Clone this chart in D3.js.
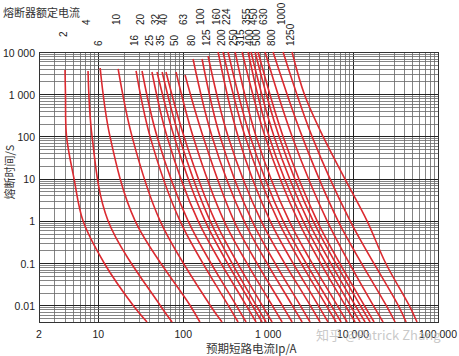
<!DOCTYPE html>
<html><head><meta charset="utf-8">
<script src="https://cdn.jsdelivr.net/npm/d3@7"></script>
<style>body{margin:0;background:#fff}svg{display:block}</style>
</head><body>
<svg id="c" width="459" height="356"></svg>
<script>
// Rated currents (labels at top) and the row each label sits in (0 = upper, 1 = lower)
const ratings = ["2","4","6","10","16","20","25","32","35","40","50","63","80","100","125","160","200","224","250","315","355","400","450","500","630","800","1000","1250"];
const labelRow = [1,0,1,0,1,0,1,0,1,0,1,0,1,0,1,0,1,0,1,1,0,1,0,1,0,1,0,1];
// x tick labels / y tick labels
const xTicks = [2, 10, 100, 1000, 10000, 100000];
const xTickLabels = ["2", "10", "100", "1 000", "10 000", "100 000"];
const yTicks = [10000, 1000, 100, 10, 1, 0.1, 0.01];
const yTickLabels = ["10 000", "1 000", "100", "10", "1", "0.1", "0.01"];

// Each curve: [prospective current A, melting time s]
const fuse2 = [[4.05,3740],[4.1,1000],[4.22,100],[5.17,10],[6.6,1],[11.7,0.1],[25.6,0.01],[37.4,0.004]];
const fuse4 = [[7.56,3550],[8.43,100],[13.0,1],[53.3,0.01],[73.8,0.004]];
const fuse6 = [[10.5,4180],[13.7,100],[27.1,1],[120,0.01],[157,0.004]];
const fuse10 = [[17.1,3960],[24.9,100],[53.3,1],[207,0.01],[286,0.004]];
const fuse16 = [[27.8,3550],[40.6,100],[91.5,1],[337,0.01],[442,0.004]];
const fuse20 = [[32.7,3550],[49.1,100],[113.9,1],[419,0.01],[549,0.004]];
const fuse25 = [[42.8,3360],[64.3,100],[149.4,1],[549,0.01],[720,0.004]];
const fuse32 = [[49.1,3360],[78.0,100],[180.7,1],[646,0.01],[848,0.004]];
const fuse35 = [[56.4,3360],[89.3,100],[207,1],[720,0.01],[945,0.004]];
const fuse40 = [[62.6,3360],[102,100],[237,1],[848,0.01],[1111,0.004]];
const fuse50 = [[82.2,3360],[130.4,100],[302,1],[1111,0.01],[1458,0.004]];
const fuse63 = [[105,2850],[171,100],[396,1],[1458,0.01],[1913,0.004]];
const fuse80 = [[130.4,6820],[218,100],[520,1],[1913,0.01],[2510,0.004]];
const fuse100 = [[166.5,6820],[271,100],[646,1],[2375,0.01],[3115,0.004]];
const fuse125 = [[196,8040],[337,100],[826,1],[3115,0.01],[4085,0.004]];
const fuse160 = [[257,10000],[442,100],[1053,1],[3870,0.01],[5075,0.004]];
const fuse200 = [[294,10000],[535,100],[1308,1],[4805,0.01],[6315,0.004]];
const fuse224 = [[337,10000],[614,100],[1498,1],[5506,0.01],[7223,0.004]];
const fuse250 = [[408,10000],[720,100],[1764,1],[6478,0.01],[8505,0.004]];
const fuse315 = [[493,10000],[918,100],[2252,1],[8044,0.01],[10560,0.004]];
const fuse355 = [[580,10000],[1025,100],[2578,1],[9223,0.01],[12090,0.004]];
const fuse400 = [[629,10000],[1173,100],[2951,1],[10560,0.01],[13850,0.004]];
const fuse450 = [[701,10000],[1344,100],[3381,1],[12090,0.01],[15860,0.004]];
const fuse500 = [[761,10000],[1498,100],[3769,1],[13475,0.01],[17680,0.004]];
const fuse630 = [[919,10000],[1913,100],[4943,1],[17200,0.01],[22550,0.004]];
const fuse800 = [[1142,10000],[2510,100],[6650,1],[24460,0.01],[31240,0.004]];
const fuse1000 = [[1498,10000],[3283,100],[9223,1],[33870,0.01],[42100,0.004]];
const fuse1250 = [[1910,10000],[2667,1000],[4426,100],[7980,10],[14590,1],[24150,0.1],[45600,0.01],[56600,0.004]];

const curves = [fuse2,fuse4,fuse6,fuse10,fuse16,fuse20,fuse25,fuse32,fuse35,fuse40,fuse50,fuse63,fuse80,fuse100,fuse125,fuse160,fuse200,fuse224,fuse250,fuse315,fuse355,fuse400,fuse450,fuse500,fuse630,fuse800,fuse1000,fuse1250];

const svg = d3.select("#c");
const L = 39, R = 438, T = 52, B = 322;
const x = d3.scaleLog().domain([2, 100000]).range([L, R]);
const y = d3.scaleLog().domain([0.004, 10000]).range([B, T]);

// grid
const g = svg.append("g");
function logLines(lo, hi) {
  const out = [];
  for (let e = -4; e <= 6; e++) for (let n = 1; n <= 9; n++) {
    const v = +(n * Math.pow(10, e)).toPrecision(3);
    if (v >= lo * 0.999 && v <= hi * 1.001) out.push({v, major: n === 1});
  }
  return out;
}
g.selectAll("line.vx").data(logLines(2, 100000)).enter().append("line")
  .attr("x1", d => Math.round(x(d.v)) + 0.5).attr("x2", d => Math.round(x(d.v)) + 0.5)
  .attr("y1", T).attr("y2", B)
  .attr("stroke", d => d.major ? "#222" : "#666").attr("stroke-width", d => d.major ? 1 : 0.8);
g.selectAll("line.hy").data(logLines(0.004, 10000)).enter().append("line")
  .attr("y1", d => Math.round(y(d.v)) + 0.5).attr("y2", d => Math.round(y(d.v)) + 0.5)
  .attr("x1", L).attr("x2", R)
  .attr("stroke", d => d.major ? "#222" : "#666").attr("stroke-width", d => d.major ? 1 : 0.8);
svg.append("rect").attr("x", L + 0.5).attr("y", T + 0.5).attr("width", R - L).attr("height", B - T)
  .attr("fill", "none").attr("stroke", "#333").attr("stroke-width", 1);

// curves
const line = d3.line().x(d => x(d[0])).y(d => y(d[1])).curve(d3.curveCatmullRom.alpha(0.5));
svg.append("g").selectAll("path").data(curves).enter().append("path")
  .attr("d", line).attr("fill", "none").attr("stroke", "#dc2a30").attr("stroke-width", 1.6);

// axes text
const font = "'Liberation Sans', Arial, sans-serif";
svg.append("g").selectAll("text").data(xTicks).enter().append("text")
  .attr("x", d => x(d)).attr("y", 338).attr("text-anchor", "middle")
  .attr("font-family", font).attr("font-size", 10.5).attr("fill", "#222")
  .text((d, i) => xTickLabels[i]);
svg.append("g").selectAll("text").data(yTicks).enter().append("text")
  .attr("x", 35).attr("y", d => y(d) + 1).attr("dy", "0.35em").attr("text-anchor", "end")
  .attr("font-family", font).attr("font-size", 10.5).attr("fill", "#222")
  .text((d, i) => yTickLabels[i]);

// top rated-current labels (rotated)
svg.append("g").selectAll("text").data(curves).enter().append("text")
  .attr("transform", (d, i) => {
    const base = i === 0 ? 37 : (labelRow[i] === 0 ? 25 : 46);
    return `translate(${x(d[0][0]) + 1.5},${base}) rotate(-90)`;
  })
  .attr("font-family", font).attr("font-size", 10).attr("fill", "#222")
  .text((d, i) => ratings[i]);

const cjk = "'Noto Sans CJK SC', sans-serif";
svg.append("text").attr("x", 3).attr("y", 17).attr("font-family", cjk).attr("font-size", 11)
  .attr("fill", "#333").text("熔断器额定电流");
svg.append("text").attr("transform", "translate(14,172) rotate(-90)").attr("text-anchor", "middle")
  .attr("font-family", cjk).attr("font-size", 11).attr("fill", "#333").text("熔断时间/S");
svg.append("text").attr("x", 206).attr("y", 353).attr("font-family", cjk).attr("font-size", 11.5)
  .attr("fill", "#333").text("预期短路电流Ip/A");
svg.append("text").attr("x", 316).attr("y", 340).attr("font-family", cjk).attr("font-size", 13)
  .attr("fill", "#bbb").attr("fill-opacity", 0.8).text("知乎 @Patrick Zhang");
</script>
</body></html>
